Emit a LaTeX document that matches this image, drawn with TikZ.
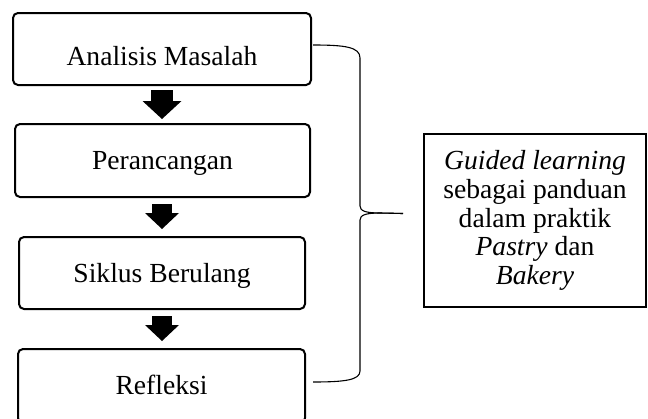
\documentclass[tikz,border=0pt]{standalone}
\usepackage{fontspec}
\setmainfont{Liberation Serif}
\usetikzlibrary{arrows.meta,positioning,calc}

\begin{document}
\begin{tikzpicture}[x=0.5pt,y=-0.5pt,
  font=\fontsize{13.8}{14.4}\selectfont,
  stepbox/.style={draw, line width=1pt, rounded corners=2.5pt, inner sep=0pt, text height=9pt, text depth=0pt},
  infobox/.style={draw, line width=1pt, align=center, inner sep=0pt},
  blockarrow/.style={line width=10pt, -{Triangle[length=8pt,width=17pt,line width=0pt]}},
  bracestyle/.style={line width=0.55pt}]
  \useasboundingbox (0,0) rectangle (648,418);

  % the four steps
  \node[stepbox, minimum width=149pt, minimum height=36pt, text height=16pt] (analisis) at (162,49) {Analisis Masalah};
  \node[stepbox, minimum width=147.5pt, minimum height=36.5pt] (perancangan) at (162.5,160.5) {Perancangan};
  \node[stepbox, minimum width=143pt, minimum height=36pt] (siklus) at (162,273) {Siklus Berulang};
  \node[stepbox, minimum width=143.5pt, minimum height=37pt, text height=8pt] (refleksi) at (161.5,386) {Refleksi};

  % block arrows between the steps
  \draw[blockarrow, line width=11pt, -{Triangle[length=9pt,width=19.5pt,line width=0pt]}, shorten <=2pt, shorten >=2pt]
    (analisis.south) -- (analisis.south |- perancangan.north);
  \draw[blockarrow, shorten <=3pt, shorten >=3.5pt] (siklus.north |- perancangan.south) -- (siklus.north);
  \draw[blockarrow, shorten <=3pt, shorten >=3.5pt] (siklus.south) -- (siklus.south |- refleksi.north);

  % note
  \node[infobox, minimum width=111pt, minimum height=86.5pt] (panduan) at (535,220.5)
    {\textit{Guided learning}\\ sebagai panduan\\ dalam praktik\\ \textit{Pastry} dan\\ \textit{Bakery}};

  % brace
  \coordinate (bracetop) at (313,45);
  \coordinate (bracebot) at (313,382);
  \coordinate (bracetip) at ($(panduan.west)+(-20,-7)$);
  \draw[bracestyle] (bracetop) .. controls (345,45) and (360,47) .. (360,58)
    -- (360,206) .. controls (360,211) and (366,213) .. (380,213) -- (bracetip);
  \draw[bracestyle] (bracetip) -- (380,213) .. controls (366,213) and (360,215) .. (360,220)
    -- (360,371) .. controls (360,380) and (345,382) .. (bracebot);
\end{tikzpicture}
\end{document}
